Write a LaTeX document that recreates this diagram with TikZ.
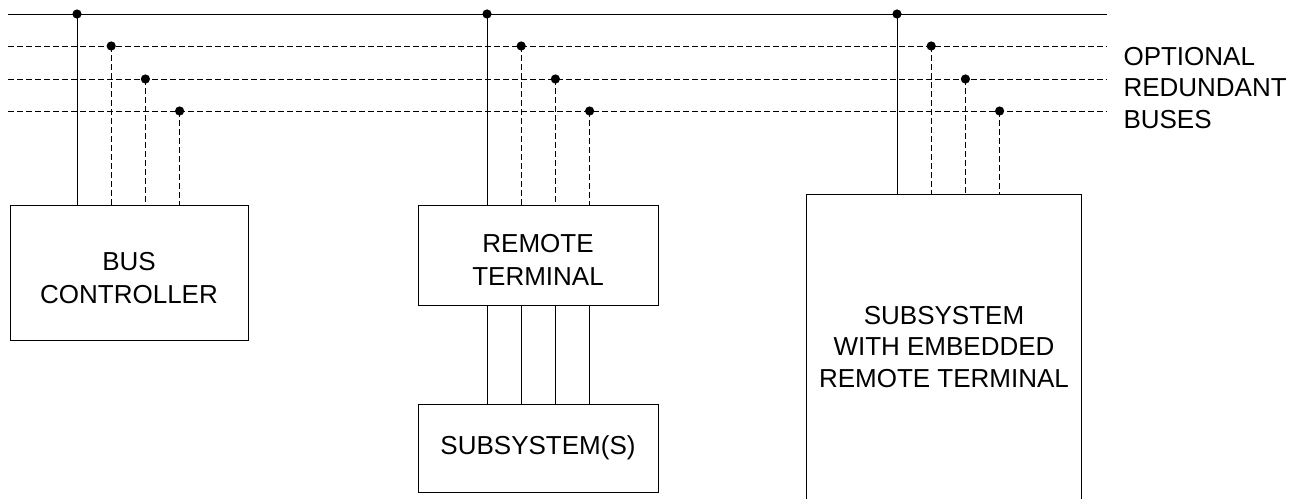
\documentclass[tikz,border=0pt]{standalone}
\usepackage{fontspec}
\setmainfont{Liberation Sans}
\begin{document}
\begin{tikzpicture}[x=0.5pt,y=-0.5pt,line width=0.5pt,
    font=\fontsize{13}{16.5}\selectfont,
    unitbox/.style={draw,inner sep=0pt},
    boxtext/.style={align=center,inner sep=0pt},
    busdash/.style={dash pattern=on 3pt off 1.5pt},
    tap/.style={radius=2.3pt}]
  \useasboundingbox (0,0) rectangle (1304,498);
  % boxes
  \node [unitbox,minimum width=119pt,minimum height=67.5pt] (bc) at (129,272.5) {};
  \node [boxtext] (bctext) at (129,278) {BUS\\CONTROLLER};
  \node [unitbox,minimum width=120pt,minimum height=50pt] (rt) at (538,255) {};
  \node [boxtext] (rttext) at (538,260) {REMOTE\\TERMINAL};
  \node [unitbox,minimum width=120pt,minimum height=44pt] (sub) at (538,448) {SUBSYSTEM(S)};
  \node [unitbox,draw=none,minimum width=137pt,minimum height=151.5pt] (sys) at (944,346.5) {};
  \node [boxtext,font=\fontsize{13}{15.75}\selectfont] (systext) at (944,347) {SUBSYSTEM\\WITH EMBEDDED\\REMOTE TERMINAL};
  \draw (sys.south west) |- (sys.north east) -- (sys.south east);
  \node [anchor=west,align=left,inner sep=0pt,font=\fontsize{13}{15.75}\selectfont] (opt) at (1123,88) {OPTIONAL\\REDUNDANT\\BUSES};
  % buses
  \foreach \i/\y in {0/14,1/46,2/79,3/111} {
    \coordinate (w\i) at (8,\y);
    \coordinate (e\i) at (1107,\y);
  }
  \draw (w0) -- (e0);
  \foreach \i in {1,2,3}
    \draw [busdash] (w\i) -- (e\i);
  % taps
  \foreach \u/\x in {bc/77,rt/487,sys/897} {
    \foreach \i/\y in {0/14,1/46,2/79,3/111}
      \coordinate (\u\i) at ({\x+34.2*\i},\y);
    \draw (\u0) -- (\u0 |- \u.north);
    \foreach \i in {1,2,3}
      \draw [busdash] (\u\i) -- (\u\i |- \u.north);
    \foreach \i in {0,1,2,3}
      \fill (\u\i) circle [tap];
  }
  % remote terminal to subsystem
  \foreach \i in {0,1,2,3}
    \draw (rt\i |- rt.south) -- (rt\i |- sub.north);
\end{tikzpicture}
\end{document}
